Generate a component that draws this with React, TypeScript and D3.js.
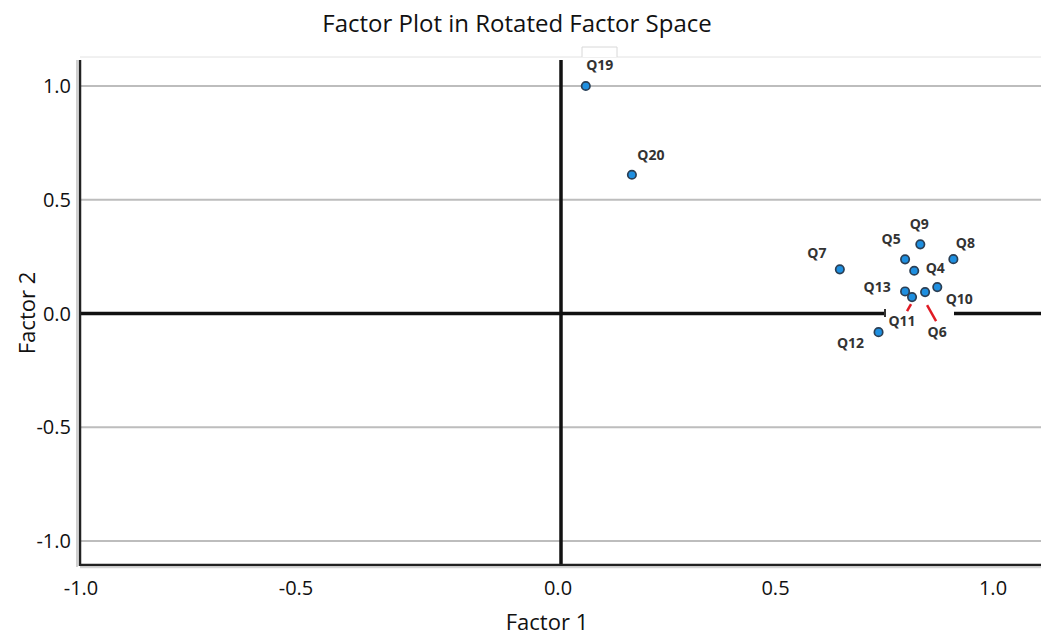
import React from "react";
import * as d3 from "d3";

const items = ["Q19", "Q20", "Q7", "Q5", "Q9", "Q8", "Q4", "Q13", "Q11", "Q6", "Q10", "Q12"];
const factor1 = [0.057, 0.163, 0.641, 0.791, 0.826, 0.902, 0.812, 0.791, 0.807, 0.837, 0.865, 0.730];
const factor2 = [1.0, 0.61, 0.194, 0.238, 0.304, 0.239, 0.188, 0.097, 0.072, 0.094, 0.116, -0.082];
const xTicks = [-1.0, -0.5, 0.0, 0.5, 1.0];
const yTicks = [1.0, 0.5, 0.0, -0.5, -1.0];

// label offsets (layout only)
const labelOffsets: Record<string, [number, number]> = {
  Q19: [14, -21],
  Q20: [19, -20],
  Q7: [-23, -16],
  Q5: [-14, -20],
  Q9: [-1, -20],
  Q8: [12, -16],
  Q4: [21, -3],
  Q13: [-28, -4],
  Q11: [-10, 24],
  Q6: [12, 40],
  Q10: [22, 12],
  Q12: [-28, 11],
};
const leaders: Record<string, [number, number, number, number]> = {
  Q11: [-1, 7, -5, 14],
  Q6: [2, 13, 11, 29],
};

const W = 1041;
const H = 637;
const left = 80;
const top = 60;
const bottom = 565;

const fmt = (t: number) => t.toFixed(1);

export default function App() {
  const x = d3.scaleLinear().domain([-1, -0.5, 0, 1]).range([84, 299, 561, 996]);
  const y = d3.scaleLinear().domain([-1, 1]).range([541, 86]);
  const font = "'Open Sans', 'Liberation Sans', sans-serif";
  return (
    <svg width={W} height={H} style={{ position: "absolute", left: 0, top: 0, background: "#fff" }} fontFamily={font}>
      <rect x={0} y={0} width={W} height={H} fill="#fff" />
      <text x={517} y={32} textAnchor="middle" fontSize={24} fill="#111">
        Factor Plot in Rotated Factor Space
      </text>
      {/* light top border and tab */}
      <line x1={left} x2={W} y1={57} y2={57} stroke="#e2e2e2" strokeWidth={1} />
      <path d="M582,57 V47 H617 V57" fill="#fff" stroke="#d8d8d8" strokeWidth={1} />
      {/* gridlines */}
      {yTicks.filter((t) => t !== 0).map((t) => (
        <line key={t} x1={left} x2={W} y1={y(t)} y2={y(t)} stroke="#bdbdbd" strokeWidth={2} />
      ))}
      {/* zero lines */}
      <line x1={left} x2={W} y1={y(0)} y2={y(0)} stroke="#111" strokeWidth={3.5} />
      <line x1={x(0)} x2={x(0)} y1={top} y2={bottom} stroke="#111" strokeWidth={3.5} />
      {/* axes frame */}
      <line x1={left - 3} x2={left - 3} y1={top} y2={bottom + 2} stroke="#d0d0d0" strokeWidth={2} />
      <line x1={left} x2={left} y1={top} y2={bottom + 1} stroke="#222" strokeWidth={2.5} />
      <line x1={left} x2={W} y1={bottom} y2={bottom} stroke="#222" strokeWidth={2.5} />
      <line x1={left} x2={W} y1={bottom + 2.5} y2={bottom + 2.5} stroke="#d5d5d5" strokeWidth={1.5} />
      {/* white label patches breaking the zero line */}
      <rect x={886} y={306} width={68} height={16} fill="#fff" />
      <rect x={884} y={309} width={2} height={8} fill="#333" />
      {/* tick labels */}
      {yTicks.map((t) => (
        <text key={t} x={71} y={y(t) + 7} textAnchor="end" fontSize={20} fill="#111">
          {fmt(t)}
        </text>
      ))}
      {xTicks.map((t) => (
        <text key={t} x={x(t) - 3} y={595} textAnchor="middle" fontSize={20} fill="#111">
          {fmt(t)}
        </text>
      ))}
      <text x={547} y={630} textAnchor="middle" fontSize={22} fill="#111">
        Factor 1
      </text>
      <text transform={`translate(35,313) rotate(-90)`} textAnchor="middle" fontSize={22} fill="#111">
        Factor 2
      </text>
      {/* leaders */}
      {items.map((q, i) => {
        const l = leaders[q];
        if (!l) return null;
        const px = x(factor1[i]);
        const py = y(factor2[i]);
        return (
          <line key={"l" + q} x1={px + l[0]} y1={py + l[1]} x2={px + l[2]} y2={py + l[3]} stroke="#e01b24" strokeWidth={2.5} />
        );
      })}
      {/* points */}
      {items.map((q, i) => (
        <circle key={q} cx={x(factor1[i])} cy={y(factor2[i])} r={4.2} fill="#1e8fe0" stroke="#2a3f55" strokeWidth={1.7} />
      ))}
      {/* labels */}
      {items.map((q, i) => {
        const o = labelOffsets[q];
        return (
          <text key={"t" + q} x={x(factor1[i]) + o[0]} y={y(factor2[i]) + o[1] + 5} textAnchor="middle" fontSize={14} fontWeight={700} fill="#333">
            {q}
          </text>
        );
      })}
    </svg>
  );
}
